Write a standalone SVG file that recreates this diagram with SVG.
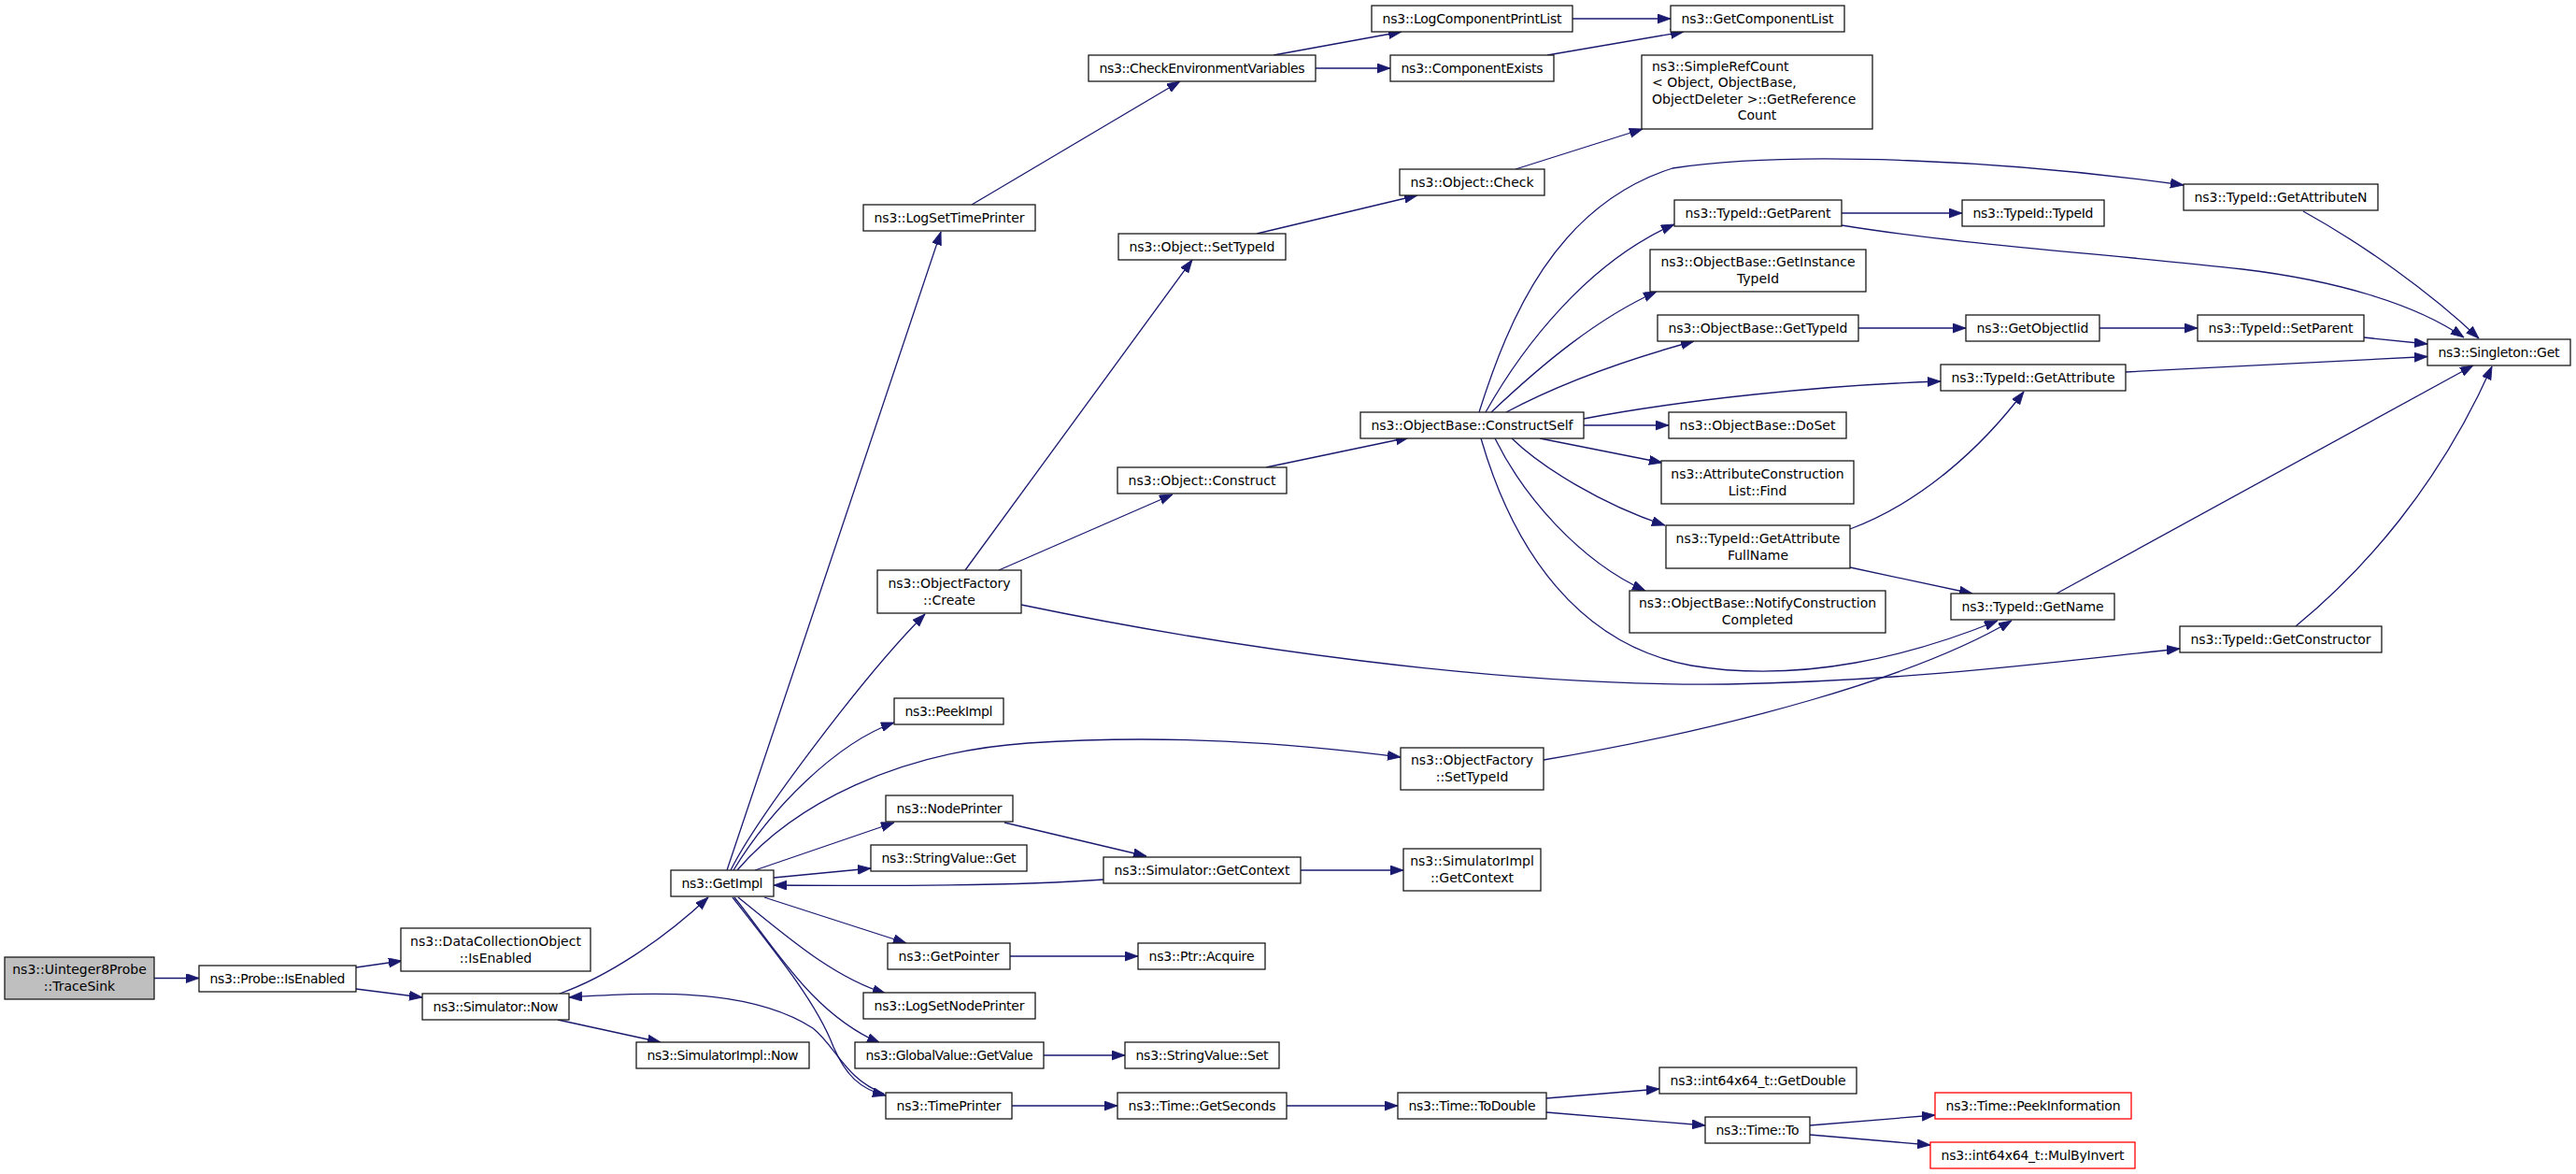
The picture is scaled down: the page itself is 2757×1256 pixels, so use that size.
<svg xmlns="http://www.w3.org/2000/svg" width="2757" height="1256" viewBox="0 0 2757 1256">
<style>
.n rect{fill:#fff;stroke:#1a1a1a;stroke-width:1.3}
.root rect{fill:#bfbfbf}
.red rect{stroke:#ff0000}
text{font-family:"DejaVu Sans","Liberation Sans",sans-serif;font-size:14px;fill:#000;text-anchor:middle}
text.l{text-anchor:start}
.e path{fill:none;stroke:#191970;stroke-width:1.3;marker-end:url(#a)}
</style>
<defs>
<marker id="a" markerUnits="userSpaceOnUse" markerWidth="15" markerHeight="11" refX="14" refY="5" orient="auto"><path d="M0,0L14,5L0,10z" fill="#191970" stroke="#191970" stroke-width="0.8"/></marker>
</defs>
<rect width="2757" height="1256" fill="#fff"/>
<g id="edges" class="e">
<path d="M165,1046.5L213,1046.5"/>
<path d="M381,1035L430,1028"/>
<path d="M381,1058L452,1067"/>
<path d="M599,1063C650,1045 710,1005 758,960"/>
<path d="M597,1091L707,1115"/>
<path d="M778,931L1007,248"/>
<path d="M782,931C810,875 925,722 990,657"/>
<path d="M785,931C825,865 895,795 957,773"/>
<path d="M789,931C850,860 960,805 1100,795C1250,785 1380,795 1499,810"/>
<path d="M808,931L957,880"/>
<path d="M828,939L932,929"/>
<path d="M1181,941C1100,947 950,948 828,947"/>
<path d="M818,960L970,1009"/>
<path d="M790,960C840,1000 890,1045 948,1063"/>
<path d="M786,960C830,1015 870,1085 942,1116"/>
<path d="M784,960C835,1025 875,1075 892,1120C905,1150 920,1165 948,1172"/>
<path d="M946,1170C905,1155 895,1120 870,1100C800,1055 690,1062 609,1067"/>
<path d="M1040,219L1263,87"/>
<path d="M1363,59L1500,34"/>
<path d="M1408,73L1488,73"/>
<path d="M1683,20L1788,20"/>
<path d="M1656,59L1802,34"/>
<path d="M1345,250L1517,209"/>
<path d="M1622,181L1758,138"/>
<path d="M1033,610L1276,278"/>
<path d="M1069,610L1255,529"/>
<path d="M1093,647C1300,690 1600,735 1850,732C2050,728 2200,708 2333,694"/>
<path d="M1355,500L1508,468"/>
<path d="M1583,441C1615,340 1665,220 1790,180C1920,160 2150,172 2337,198"/>
<path d="M1590,441C1630,370 1700,280 1792,240"/>
<path d="M1596,441C1650,390 1710,340 1773,312"/>
<path d="M1612,441C1670,410 1740,385 1813,365"/>
<path d="M1695,448C1800,428 1950,412 2077,408"/>
<path d="M1695,455L1786,455"/>
<path d="M1648,469L1779,495"/>
<path d="M1618,469C1650,500 1715,540 1782,562"/>
<path d="M1600,469C1630,530 1690,600 1761,632"/>
<path d="M1585,469C1620,590 1690,690 1810,712C1930,732 2050,700 2138,664"/>
<path d="M1971,228L2100,228"/>
<path d="M1971,241C2100,262 2260,272 2400,288C2500,300 2585,325 2637,361"/>
<path d="M2465,226C2530,262 2600,312 2653,362"/>
<path d="M1989,351L2104,351"/>
<path d="M2247,351L2352,351"/>
<path d="M2530,361L2598,368"/>
<path d="M2275,398L2598,381.5"/>
<path d="M1980,566C2055,538 2120,480 2166,419"/>
<path d="M1980,607L2111,635"/>
<path d="M2201,635L2647,391"/>
<path d="M2457,670C2530,610 2610,520 2667,392"/>
<path d="M1652,813C1850,780 2050,725 2153,664"/>
<path d="M1075,880L1227,916"/>
<path d="M1392,931L1502,931"/>
<path d="M1081,1023L1218,1023"/>
<path d="M1117,1129L1204,1129"/>
<path d="M1083,1183L1196,1183"/>
<path d="M1377,1183L1496,1183"/>
<path d="M1655,1175L1776,1165"/>
<path d="M1655,1190L1825,1204"/>
<path d="M1937,1204L2071,1193"/>
<path d="M1937,1214L2066,1225"/>
</g>
<g id="n_tracesink" class="n root"><rect x="5" y="1024" width="160" height="45"/><text x="85" y="1042">ns3::Uinteger8Probe</text><text x="85" y="1060">::TraceSink</text></g>
<g id="n_probe_isenabled" class="n"><rect x="213" y="1033" width="168" height="28"/><text x="297" y="1051.5" textLength="145">ns3::Probe::IsEnabled</text></g>
<g id="n_dco_isenabled" class="n"><rect x="429" y="993" width="203" height="46"/><text x="530.5" y="1011.5">ns3::DataCollectionObject</text><text x="530.5" y="1029.5">::IsEnabled</text></g>
<g id="n_sim_now" class="n"><rect x="452" y="1063" width="157" height="28"/><text x="530.5" y="1081.5" textLength="134">ns3::Simulator::Now</text></g>
<g id="n_simimpl_now" class="n"><rect x="681" y="1115" width="185" height="28"/><text x="773.5" y="1133.5" textLength="162">ns3::SimulatorImpl::Now</text></g>
<g id="n_getimpl" class="n"><rect x="718" y="931" width="110" height="28"/><text x="773" y="949.5" textLength="87">ns3::GetImpl</text></g>
<g id="n_logsettimeprinter" class="n"><rect x="924" y="219" width="184" height="28"/><text x="1016" y="237.5" textLength="161">ns3::LogSetTimePrinter</text></g>
<g id="n_checkenv" class="n"><rect x="1165" y="59" width="243" height="28"/><text x="1286.5" y="77.5" textLength="220">ns3::CheckEnvironmentVariables</text></g>
<g id="n_logcompprintlist" class="n"><rect x="1468" y="6" width="215" height="28"/><text x="1575.5" y="24.5" textLength="192">ns3::LogComponentPrintList</text></g>
<g id="n_getcomplist" class="n"><rect x="1788" y="6" width="186" height="28"/><text x="1881" y="24.5" textLength="163">ns3::GetComponentList</text></g>
<g id="n_compexists" class="n"><rect x="1488" y="59" width="175" height="28"/><text x="1575.5" y="77.5" textLength="152">ns3::ComponentExists</text></g>
<g id="n_simplerefcount" class="n"><rect x="1757" y="59" width="247" height="79"/><text class="l" x="1768" y="75.5">ns3::SimpleRefCount</text><text class="l" x="1768" y="92.5">&lt; Object, ObjectBase,</text><text class="l" x="1768" y="110.5"> ObjectDeleter &gt;::GetReference</text><text x="1880.5" y="127.5">Count</text></g>
<g id="n_object_check" class="n"><rect x="1498" y="181" width="155" height="28"/><text x="1575.5" y="199.5" textLength="132">ns3::Object::Check</text></g>
<g id="n_object_settypeid" class="n"><rect x="1197" y="250" width="179" height="28"/><text x="1286.5" y="268.5" textLength="156">ns3::Object::SetTypeId</text></g>
<g id="n_object_construct" class="n"><rect x="1196" y="500" width="181" height="28"/><text x="1286.5" y="518.5" textLength="158">ns3::Object::Construct</text></g>
<g id="n_constructself" class="n"><rect x="1456" y="441" width="239" height="28"/><text x="1575.5" y="459.5" textLength="216">ns3::ObjectBase::ConstructSelf</text></g>
<g id="n_getparent" class="n"><rect x="1792" y="214" width="179" height="28"/><text x="1881.5" y="232.5" textLength="156">ns3::TypeId::GetParent</text></g>
<g id="n_typeid_typeid" class="n"><rect x="2100" y="214" width="152" height="28"/><text x="2176" y="232.5" textLength="129">ns3::TypeId::TypeId</text></g>
<g id="n_getattributen" class="n"><rect x="2337" y="197" width="208" height="28"/><text x="2441" y="215.5" textLength="185">ns3::TypeId::GetAttributeN</text></g>
<g id="n_getinstancetypeid" class="n"><rect x="1766" y="267" width="231" height="45"/><text x="1881.5" y="285">ns3::ObjectBase::GetInstance</text><text x="1881.5" y="303">TypeId</text></g>
<g id="n_ob_gettypeid" class="n"><rect x="1774" y="337" width="215" height="28"/><text x="1881.5" y="355.5" textLength="192">ns3::ObjectBase::GetTypeId</text></g>
<g id="n_getobjectiid" class="n"><rect x="2104" y="337" width="143" height="28"/><text x="2175.5" y="355.5" textLength="120">ns3::GetObjectIid</text></g>
<g id="n_setparent" class="n"><rect x="2352" y="337" width="178" height="28"/><text x="2441" y="355.5" textLength="155">ns3::TypeId::SetParent</text></g>
<g id="n_singleton_get" class="n"><rect x="2598" y="363" width="153" height="28"/><text x="2674.5" y="381.5" textLength="130">ns3::Singleton::Get</text></g>
<g id="n_getattribute" class="n"><rect x="2077" y="390" width="198" height="28"/><text x="2176" y="408.5" textLength="175">ns3::TypeId::GetAttribute</text></g>
<g id="n_doset" class="n"><rect x="1786" y="441" width="190" height="28"/><text x="1881" y="459.5" textLength="167">ns3::ObjectBase::DoSet</text></g>
<g id="n_acl_find" class="n"><rect x="1778" y="493" width="206" height="46"/><text x="1881" y="511.5">ns3::AttributeConstruction</text><text x="1881" y="529.5">List::Find</text></g>
<g id="n_getattrfullname" class="n"><rect x="1783" y="562" width="197" height="46"/><text x="1881.5" y="580.5">ns3::TypeId::GetAttribute</text><text x="1881.5" y="598.5">FullName</text></g>
<g id="n_notifyconstruction" class="n"><rect x="1744" y="632" width="274" height="45"/><text x="1881" y="650">ns3::ObjectBase::NotifyConstruction</text><text x="1881" y="668">Completed</text></g>
<g id="n_getname" class="n"><rect x="2088" y="635" width="175" height="28"/><text x="2175.5" y="653.5" textLength="152">ns3::TypeId::GetName</text></g>
<g id="n_getconstructor" class="n"><rect x="2333" y="670" width="216" height="28"/><text x="2441" y="688.5" textLength="193">ns3::TypeId::GetConstructor</text></g>
<g id="n_of_create" class="n"><rect x="939" y="610" width="154" height="46"/><text x="1016" y="628.5">ns3::ObjectFactory</text><text x="1016" y="646.5">::Create</text></g>
<g id="n_peekimpl" class="n"><rect x="957" y="747" width="117" height="28"/><text x="1015.5" y="765.5" textLength="94">ns3::PeekImpl</text></g>
<g id="n_of_settypeid" class="n"><rect x="1499" y="800" width="153" height="45"/><text x="1575.5" y="818">ns3::ObjectFactory</text><text x="1575.5" y="836">::SetTypeId</text></g>
<g id="n_nodeprinter" class="n"><rect x="948" y="851" width="136" height="28"/><text x="1016" y="869.5" textLength="113">ns3::NodePrinter</text></g>
<g id="n_stringvalue_get" class="n"><rect x="932" y="904" width="167" height="28"/><text x="1015.5" y="922.5" textLength="144">ns3::StringValue::Get</text></g>
<g id="n_sim_getcontext" class="n"><rect x="1181" y="917" width="211" height="28"/><text x="1286.5" y="935.5" textLength="188">ns3::Simulator::GetContext</text></g>
<g id="n_simimpl_getcontext" class="n"><rect x="1502" y="908" width="147" height="45"/><text x="1575.5" y="926">ns3::SimulatorImpl</text><text x="1575.5" y="944">::GetContext</text></g>
<g id="n_getpointer" class="n"><rect x="950" y="1009" width="131" height="28"/><text x="1015.5" y="1027.5" textLength="108">ns3::GetPointer</text></g>
<g id="n_ptr_acquire" class="n"><rect x="1218" y="1009" width="136" height="28"/><text x="1286" y="1027.5" textLength="113">ns3::Ptr::Acquire</text></g>
<g id="n_logsetnodeprinter" class="n"><rect x="924" y="1062" width="184" height="28"/><text x="1016" y="1080.5" textLength="161">ns3::LogSetNodePrinter</text></g>
<g id="n_globalvalue_getvalue" class="n"><rect x="915" y="1115" width="202" height="28"/><text x="1016" y="1133.5" textLength="179">ns3::GlobalValue::GetValue</text></g>
<g id="n_stringvalue_set" class="n"><rect x="1204" y="1115" width="165" height="28"/><text x="1286.5" y="1133.5" textLength="142">ns3::StringValue::Set</text></g>
<g id="n_timeprinter" class="n"><rect x="948" y="1169" width="135" height="28"/><text x="1015.5" y="1187.5" textLength="112">ns3::TimePrinter</text></g>
<g id="n_time_getseconds" class="n"><rect x="1196" y="1169" width="181" height="28"/><text x="1286.5" y="1187.5" textLength="158">ns3::Time::GetSeconds</text></g>
<g id="n_time_todouble" class="n"><rect x="1496" y="1169" width="159" height="28"/><text x="1575.5" y="1187.5" textLength="136">ns3::Time::ToDouble</text></g>
<g id="n_int64_getdouble" class="n"><rect x="1776" y="1142" width="211" height="28"/><text x="1881.5" y="1160.5" textLength="188">ns3::int64x64_t::GetDouble</text></g>
<g id="n_time_to" class="n"><rect x="1825" y="1195" width="112" height="28"/><text x="1881" y="1213.5" textLength="89">ns3::Time::To</text></g>
<g id="n_peekinformation" class="n red"><rect x="2071" y="1169" width="210" height="28"/><text x="2176" y="1187.5" textLength="187">ns3::Time::PeekInformation</text></g>
<g id="n_mulbyinvert" class="n red"><rect x="2066" y="1222" width="219" height="28"/><text x="2175.5" y="1240.5" textLength="196">ns3::int64x64_t::MulByInvert</text></g>
</svg>
